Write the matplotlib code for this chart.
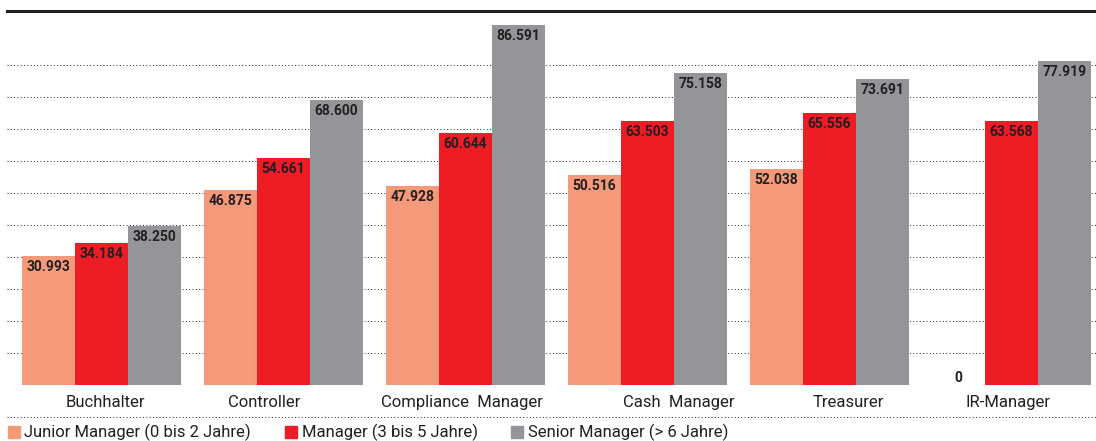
import numpy as np
import matplotlib
matplotlib.use('Agg')
import matplotlib.pyplot as plt
from matplotlib.patches import Rectangle
import matplotlib.transforms as mtransforms

plt.rcParams['font.family'] = ['Roboto', 'DejaVu Sans']

# data (Gehalt in Tsd. EUR)
categories = ['Buchhalter', 'Controller', 'Compliance  Manager',
              'Cash  Manager', 'Treasurer', 'IR-Manager']
junior = [30.993, 46.875, 47.928, 50.516, 52.038, 0]
manager = [34.184, 54.661, 60.644, 63.503, 65.556, 63.568]
senior = [38.250, 68.600, 86.591, 75.158, 73.691, 77.919]
series_names = ['Junior Manager (0 bis 2 Jahre)',
                'Manager (3 bis 5 Jahre)',
                'Senior Manager (> 6 Jahre)']

colors = ['#F4997A', '#EE1C25', '#939598']
dark = '#231F20'

W, H = 1096, 441
fig = plt.figure(figsize=(W / 100, H / 100), dpi=100)
ax = fig.add_axes([7 / W, (H - 385) / H, 1 - 7 / W, 374 / H])

x = np.arange(len(categories))
bw = 0.291
for k, vals in enumerate([junior, manager, senior]):
    pos = x + (k - 1) * bw
    ax.bar(pos, vals, width=bw, color=colors[k], zorder=3, linewidth=0)
    for px, v in zip(pos, vals):
        lab = f'{v:.3f}' if v else '0'
        off = -11 if v else 7
        ax.annotate(lab, (px, v), xytext=(0, off), textcoords='offset pixels',
                    ha='center', va='center', fontsize=10, fontweight='bold',
                    color=dark, zorder=4)

ax.set_xlim(-0.519, 5.464)
ax.set_ylim(0, 90)

# dotted grid
for g in np.arange(0, 11) * 7.7:
    ax.axhline(g, color=dark, lw=0.7, ls=(0, (1, 2.4)), zorder=1)

for s in ['left', 'right', 'bottom']:
    ax.spines[s].set_visible(False)
ax.spines['top'].set_color(dark)
ax.spines['top'].set_linewidth(2.2)
ax.set_xticks([])
ax.set_yticks([])

# category labels (slightly shifted like the original)
label_shift = [0.022, -0.107, -0.022, 0.170, 0.102, -0.022]
trans = mtransforms.blended_transform_factory(ax.transData, ax.transAxes)
for i, c in enumerate(categories):
    ax.text(i + label_shift[i], -0.047, c, transform=trans, ha='center',
            va='center', fontsize=12, color=dark)

# dotted line under the labels
ax.plot([0, 1], [-0.0856, -0.0856], transform=ax.transAxes, clip_on=False,
        color=dark, lw=0.7, ls=(0, (1, 2.4)))

# legend
sq_x = [8, 285, 511]
txt_x = [24, 302, 528]
for k, name in enumerate(series_names):
    fig.patches.append(Rectangle((sq_x[k] / W, (H - 438) / H), 12 / W, 12 / H,
                                 transform=fig.transFigure, color=colors[k]))
    fig.text(txt_x[k] / W, (H - 437) / H, name, ha='left', va='baseline',
             fontsize=12, color=dark)

fig.savefig('out.png', dpi=100)
